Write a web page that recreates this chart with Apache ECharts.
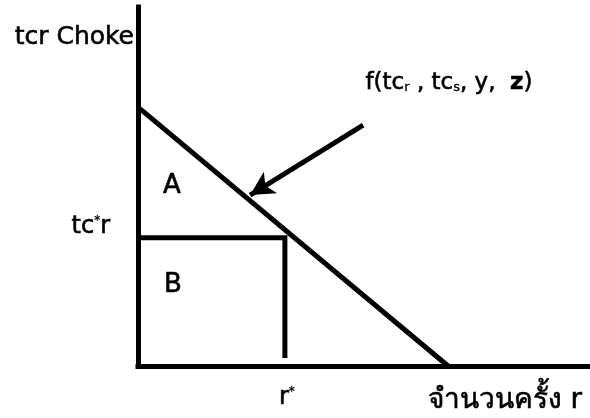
<!DOCTYPE html>
<html lang="th">
<head>
<meta charset="UTF-8">
<title>tcr Choke</title>
<script src="https://cdn.jsdelivr.net/npm/echarts@6/dist/echarts.min.js"></script>
<style>html,body{margin:0;padding:0;background:#fff;}</style>
</head>
<body>
<div id="main" style="width:590px;height:418px;"></div>
<script>
    // demand line: choke price on the y axis, down to zero on the x axis
    var demandX = [0, 68.6];
    var demandY = [72.1, 0];
    // chosen trip count r* and price tc*r
    var rStar = 32.5;
    var tcStar = 35.7;
    var stepX = [0, rStar, rStar];
    var stepY = [tcStar, tcStar, 2.2];
    // arrow from the formula to the demand line
    var arrowFrom = [49.8, 67.1];
    var arrowTo = [24.8, 47.6];
    // notes written inside the diagram
    var noteNames = ['A', 'B', 'f'];
    var noteX = [7.5, 7.7, 68.8];
    var noteY = [50.0, 22.5, 78.8];

    var font = "'DejaVu Sans', 'Noto Sans', sans-serif";
    // text in the original is a little heavier than plain regular
    var ink = {color: '#000', fontFamily: font, textBorderColor: '#000', textBorderWidth: 0.6};

    function zip(xs, ys) {
        var out = [];
        for (var i = 0; i < xs.length; i++) out.push([xs[i], ys[i]]);
        return out;
    }

    function txt(size, extra) {
        return Object.assign({fontSize: size}, ink, extra || {});
    }

    var notes = [];
    for (var i = 0; i < noteNames.length; i++) {
        notes.push({name: noteNames[i], value: [noteX[i], noteY[i]]});
    }

    var black = {color: '#000', width: 5, cap: 'butt', join: 'miter'};

    var myChart = echarts.init(document.getElementById('main'));
    var option = {
        animation: false,
        backgroundColor: '#fff',
        grid: {left: 138, right: 0, top: 7, bottom: 52, containLabel: false},
        xAxis: {
            type: 'value', min: 0, max: 100,
            axisLine: {show: true, lineStyle: {color: '#000', width: 5, cap: 'square'}},
            axisTick: {show: false}, axisLabel: {show: false}, splitLine: {show: false},
            name: 'จำนวนครั้ง r', nameLocation: 'end', nameGap: -8,
            nameTextStyle: txt(28, {align: 'right', verticalAlign: 'top', padding: [21, 0, 0, 0]})
        },
        yAxis: {
            type: 'value', min: 0, max: 100,
            axisLine: {show: true, lineStyle: {color: '#000', width: 5, cap: 'square'}},
            axisTick: {show: false}, axisLabel: {show: false}, splitLine: {show: false},
            name: 'tcr Choke', nameLocation: 'end', nameGap: -30,
            nameTextStyle: txt(25, {align: 'right', verticalAlign: 'middle', padding: [0, 4, 0, 0]})
        },
        series: [
            {
                type: 'line', data: zip(demandX, demandY), symbol: 'none',
                lineStyle: black, silent: true,
                markLine: {
                    silent: true, symbol: ['none', 'arrow'], symbolSize: [19, 24],
                    lineStyle: {color: '#000', width: 5, type: 'solid'},
                    label: {show: false},
                    data: [[{coord: arrowFrom}, {coord: arrowTo}]]
                }
            },
            {
                type: 'line', data: zip(stepX, stepY), symbol: 'none',
                lineStyle: black, silent: true
            },
            {
                // axis value markers tc*r and r*
                type: 'scatter', symbolSize: 0, silent: true,
                itemStyle: {opacity: 1},
                data: [
                    {value: [0, tcStar], label: {position: 'left', distance: 28, offset: [0, -11],
                        formatter: '{n|tc}{s|*}{n|r}'}},
                    {value: [rStar, 0], label: {position: 'bottom', distance: 18, offset: [2, 2],
                        formatter: '{n|r}{s|*}'}}
                ],
                label: {
                    show: true, color: '#000', fontFamily: font,
                    rich: {
                        n: txt(24),
                        s: txt(12, {verticalAlign: 'top', textBorderWidth: 0.3})
                    }
                }
            },
            {
                type: 'scatter', symbolSize: 0, silent: true, data: notes,
                itemStyle: {opacity: 1},
                label: Object.assign(txt(26), {
                    show: true, position: 'inside',
                    formatter: function (p) {
                        if (p.name === 'f') {
                            return '{n|f(tc}{sub|r}{n| , tc}{sub|s}{n|, y,  }{b|z}{n|)}';
                        }
                        return p.name;
                    },
                    rich: {
                        n: txt(23),
                        sub: txt(13, {verticalAlign: 'bottom', textBorderWidth: 0.3}),
                        b: txt(23, {fontWeight: 'bold'})
                    }
                })
            }
        ]
    };
    myChart.setOption(option);
</script>
</body>
</html>
